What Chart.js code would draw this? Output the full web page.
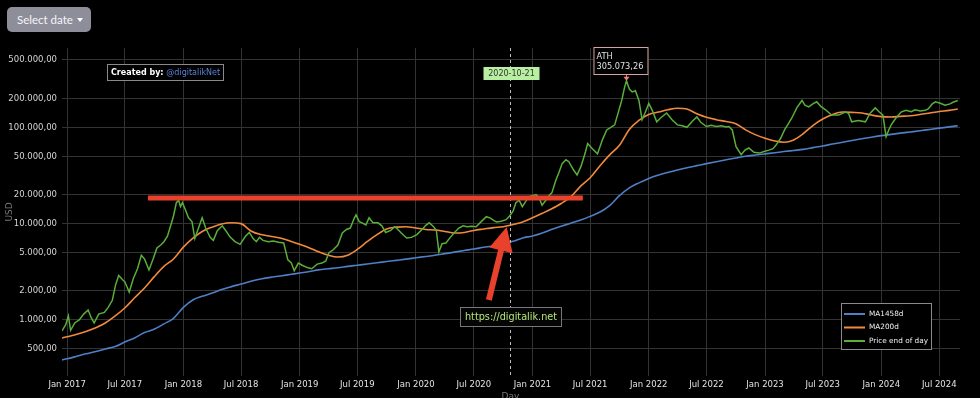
<!DOCTYPE html>
<html>
<head>
<meta charset="utf-8">
<script src="https://cdn.jsdelivr.net/npm/chart.js@4.4.1/dist/chart.umd.min.js"></script>
<style>
  html, body { margin: 0; padding: 0; background: #000; }
  #wrap { position: relative; width: 980px; height: 398px; }
  #btn {
    position: absolute; left: 7px; top: 7px; width: 84px; height: 25px;
    box-sizing: border-box; padding-left: 10px;
    background: #8e8e9a; border-radius: 5px; color: #f4f4f8;
    font: 11.5px 'Lato', sans-serif; line-height: 25px;
  }
  #btn .caret {
    position: absolute; left: 70px; top: 11px;
    border-left: 3.5px solid transparent; border-right: 3.5px solid transparent;
    border-top: 4px solid #fff;
  }
</style>
</head>
<body>
<div id="wrap">
  <canvas id="chart" width="980" height="398"></canvas>
  <div id="btn">Select date<span class="caret"></span></div>
</div>
<script>
// moving averages, one point per month
const maDates = [
  '2016-12-16',
  '2017-01-01','2017-02-01','2017-03-01','2017-04-01','2017-05-01','2017-06-01','2017-07-01','2017-08-01','2017-09-01','2017-10-01','2017-11-01','2017-12-01',
  '2018-01-01','2018-02-01','2018-03-01','2018-04-01','2018-05-01','2018-06-01','2018-07-01','2018-08-01','2018-09-01','2018-10-01','2018-11-01','2018-12-01',
  '2019-01-01','2019-02-01','2019-03-01','2019-04-01','2019-05-01','2019-06-01','2019-07-01','2019-08-01','2019-09-01','2019-10-01','2019-11-01','2019-12-01',
  '2020-01-01','2020-02-01','2020-03-01','2020-04-01','2020-05-01','2020-06-01','2020-07-01','2020-08-01','2020-09-01','2020-10-01','2020-11-01','2020-12-01',
  '2021-01-01','2021-02-01','2021-03-01','2021-04-01','2021-05-01','2021-06-01','2021-07-01','2021-08-01','2021-09-01','2021-10-01','2021-11-01','2021-12-01',
  '2022-01-01','2022-02-01','2022-03-01','2022-04-01','2022-05-01','2022-06-01','2022-07-01','2022-08-01','2022-09-01','2022-10-01','2022-11-01','2022-12-01',
  '2023-01-01','2023-02-01','2023-03-01','2023-04-01','2023-05-01','2023-06-01','2023-07-01','2023-08-01','2023-09-01','2023-10-01','2023-11-01','2023-12-01',
  '2024-01-01','2024-02-01','2024-03-01','2024-04-01','2024-05-01','2024-06-01','2024-07-01','2024-08-01','2024-08-28'
];
const ma1458 = [
  385,
  395, 420, 445, 470, 500, 530, 590, 650, 740, 800, 910, 1040,
  1350, 1620, 1760, 1900, 2070, 2220, 2360, 2520, 2660, 2770, 2860, 2960,
  3070, 3180, 3310, 3400, 3480, 3600, 3700, 3810, 3920, 4040, 4160, 4280,
  4420, 4560, 4700, 4880, 5060, 5260, 5450, 5680, 5900, 6200, 6550, 7100,
  7450, 8000, 8700, 9400, 10100, 10900, 11900, 13200, 15500, 19500, 23500, 26500,
  29500, 32000, 34000, 36000, 38000, 40000, 42000, 44000, 46000, 48000, 50000, 51500,
  53000, 54500, 56000, 57500, 59000, 61500, 64000, 67000, 70000, 73000, 76000, 79000,
  82000, 84500, 87000, 89500, 92000, 95000, 98000, 101000, 104000
];
const ma200 = [
  650,
  670, 710, 760, 830, 930, 1100, 1330, 1700, 2150, 2800, 3600, 4300,
  5700, 7100, 8300, 9200, 9900, 10200, 10000, 8400, 7700, 7400, 7100, 6600,
  6100, 5600, 5100, 4700, 4500, 4700, 5400, 6500, 7700, 8800, 9200, 9300,
  9000, 8700, 8600, 8300, 8000, 8100, 8500, 8800, 9100, 9300, 9800, 10400,
  11500, 12800, 14200, 16200, 19000, 24500, 30000, 40000, 52000, 65000, 95000, 118000,
  136000, 144000, 152000, 158000, 155000, 138000, 127000, 120000, 115000, 109000, 94000, 84000,
  77000, 72000, 70000, 74000, 86000, 105000, 122000, 136000, 144000, 143000, 141000, 134000,
  129000, 128000, 130000, 132000, 136000, 141000, 146000, 150000, 155000
];

// price end of day (sampled)
const priceDates = [
  '2016-12-16','2016-12-28','2017-01-05','2017-01-12','2017-01-25','2017-02-08','2017-02-22','2017-03-08','2017-03-18','2017-03-27',
  '2017-04-10','2017-04-28','2017-05-10','2017-05-23','2017-06-02','2017-06-12','2017-06-25','2017-07-01','2017-07-15','2017-07-28',
  '2017-08-10','2017-08-22','2017-09-01','2017-09-15','2017-09-28','2017-10-10','2017-10-22','2017-11-01','2017-11-12','2017-11-22',
  '2017-12-01','2017-12-10','2017-12-17','2017-12-23','2017-12-29','2018-01-07','2018-01-17','2018-01-28','2018-02-06','2018-02-20',
  '2018-03-01','2018-03-12','2018-03-26','2018-04-05','2018-04-18','2018-05-03','2018-05-15','2018-05-27','2018-06-12','2018-06-28',
  '2018-07-15','2018-07-27','2018-08-08','2018-08-18','2018-08-28','2018-09-08','2018-09-25','2018-10-10','2018-10-27','2018-11-12',
  '2018-11-25','2018-12-06','2018-12-15','2018-12-28','2019-01-09','2019-01-25','2019-02-08','2019-02-25','2019-03-12','2019-03-24',
  '2019-04-03','2019-04-15','2019-05-01','2019-05-15','2019-05-28','2019-06-09','2019-06-22','2019-06-27','2019-07-07','2019-07-16',
  '2019-07-28','2019-08-07','2019-08-19','2019-09-04','2019-09-16','2019-09-28','2019-10-14','2019-10-26','2019-11-01','2019-11-16',
  '2019-12-03','2019-12-18','2020-01-04','2020-01-20','2020-02-01','2020-02-12','2020-02-24','2020-03-05','2020-03-13','2020-03-23',
  '2020-04-04','2020-04-18','2020-05-01','2020-05-15','2020-05-28','2020-06-10','2020-06-23','2020-07-08','2020-07-24','2020-08-09',
  '2020-08-22','2020-09-01','2020-09-10','2020-09-25','2020-10-10','2020-10-21','2020-11-01','2020-11-10','2020-11-20','2020-11-30',
  '2020-12-11','2020-12-20','2020-12-31','2021-01-12','2021-01-22','2021-01-31','2021-02-12','2021-02-22','2021-03-03','2021-03-15',
  '2021-03-25','2021-04-04','2021-04-16','2021-04-25','2021-05-10','2021-05-21','2021-06-03','2021-06-16','2021-06-23','2021-07-08',
  '2021-07-24','2021-08-09','2021-08-22','2021-09-04','2021-09-16','2021-09-29','2021-10-08','2021-10-17','2021-10-23','2021-11-01',
  '2021-11-10','2021-11-20','2021-12-01','2021-12-11','2021-12-20','2022-01-01','2022-01-12','2022-01-26','2022-02-07','2022-02-26',
  '2022-03-15','2022-04-01','2022-04-16','2022-05-01','2022-05-17','2022-06-01','2022-06-14','2022-07-01','2022-07-16','2022-08-01',
  '2022-08-17','2022-09-01','2022-09-10','2022-09-20','2022-10-02','2022-10-18','2022-10-30','2022-11-11','2022-11-27','2022-12-14',
  '2022-12-29','2023-01-13','2023-01-26','2023-02-04','2023-02-19','2023-03-04','2023-03-16','2023-03-26','2023-04-11','2023-04-27',
  '2023-05-06','2023-05-18','2023-05-31','2023-06-12','2023-06-25','2023-07-10','2023-07-29','2023-08-20','2023-09-10','2023-09-20',
  '2023-09-30','2023-10-21','2023-11-12','2023-11-27','2023-12-13','2023-12-25','2024-01-06','2024-01-16','2024-01-25','2024-02-01',
  '2024-02-16','2024-03-03','2024-03-18','2024-04-04','2024-04-16','2024-05-02','2024-05-18','2024-05-27','2024-06-09','2024-06-19',
  '2024-07-04','2024-07-19','2024-08-04','2024-08-13','2024-08-28'
];
const price = [
  770, 900, 1100, 780, 930, 1000, 1150, 1270, 1050, 930,
  1150, 1200, 1350, 1600, 2300, 2900, 2600, 2500, 1950, 2700,
  3400, 4700, 4300, 3300, 4300, 5600, 6000, 6500, 7400, 9500,
  12000, 16500, 17500, 15000, 16500, 14000, 11500, 10500, 7000, 9500,
  11500, 9000, 7200, 6700, 8500, 9500, 8400, 7300, 6500, 6100,
  7400, 8100, 7000, 6500, 7200, 6700, 6500, 6600, 6400, 6300,
  4200, 3900, 3250, 3900, 3700, 3500, 3400, 3800, 3900, 4100,
  5000, 5300, 6000, 8000, 8700, 9000, 11500, 12300, 10500, 10200,
  9700, 11500, 10200, 10200, 9500, 8100, 8500, 9300, 9000, 8000,
  7100, 7200, 7700, 8700, 9600, 10200, 9400, 8600, 5100, 6200,
  6300, 7200, 8100, 9000, 9500, 9300, 9400, 9300, 10500, 11800,
  11400, 10800, 10400, 10600, 11000, 12000, 13500, 16500, 17500, 15000,
  17000, 19000, 19500, 20000, 18500, 15500, 17500, 19500, 21000, 28000,
  34000, 42000, 46000, 44000, 36000, 32000, 40000, 55000, 68000, 60000,
  53000, 75000, 94000, 100000, 106000, 150000, 190000, 260000, 305073.26, 250000,
  233000, 240000, 190000, 120000, 140000, 177000, 150000, 114000, 125000, 141000,
  120000, 106000, 104000, 100000, 115000, 128000, 112000, 102000, 105000, 102000,
  104000, 101000, 102000, 94000, 63000, 52000, 58000, 61000, 55000, 54000,
  56000, 58000, 60000, 65000, 77000, 95000, 110000, 125000, 160000, 190000,
  170000, 163000, 175000, 184000, 165000, 152000, 134000, 134000, 144000, 140000,
  114000, 118000, 114000, 140000, 159000, 145000, 134000, 80000, 95000, 106000,
  125000, 144000, 150000, 145000, 152000, 148000, 150000, 155000, 175000, 184000,
  178000, 170000, 175000, 182000, 190000
];

const yTicks = [500, 1000, 2000, 5000, 10000, 20000, 50000, 100000, 200000, 500000];
const xTicks = [
  '2017-01-01','2017-07-01','2018-01-01','2018-07-01','2019-01-01','2019-07-01','2020-01-01','2020-07-01',
  '2021-01-01','2021-07-01','2022-01-01','2022-07-01','2023-01-01','2023-07-01','2024-01-01','2024-07-01'
];
const months = ['Jan','Feb','Mar','Apr','May','Jun','Jul','Aug','Sep','Oct','Nov','Dec'];

const markDate = '2020-10-21';
const resistance = { from: '2017-09-12', to: '2021-06-08', value: 18500 };
const arrow = { from: ['2020-08-17', 1610], to: ['2020-10-12', 9220] };

function fmtNum(v) {
  const parts = v.toFixed(2).split('.');
  return parts[0].replace(/\B(?=(\d{3})+(?!\d))/g, '.') + ',' + parts[1];
}
const toPts = (dates, vals) => dates.map((d, i) => ({ x: Date.parse(d), y: vals[i] }));

function box(ctx, x, y, w, h, fill, stroke) {
  ctx.fillStyle = fill;
  ctx.fillRect(x, y, w, h);
  if (stroke) {
    ctx.strokeStyle = stroke;
    ctx.lineWidth = 1;
    ctx.strokeRect(x + 0.5, y + 0.5, w - 1, h - 1);
  }
}

const overlays = {
  id: 'overlays',
  afterDraw(chart) {
    const { ctx, chartArea: a, scales: { x, y } } = chart;
    const F = 'DejaVu Sans';
    ctx.save();

    // vertical marker
    const mx = Math.round(x.getPixelForValue(Date.parse(markDate))) + 0.5;
    ctx.strokeStyle = '#bdbdbd';
    ctx.lineWidth = 1;
    ctx.setLineDash([3, 3]);
    ctx.beginPath();
    ctx.moveTo(mx, a.top);
    ctx.lineTo(mx, a.bottom);
    ctx.stroke();
    ctx.setLineDash([]);

    // red resistance line
    const ry = y.getPixelForValue(resistance.value);
    ctx.strokeStyle = '#e8412c';
    ctx.lineWidth = 5;
    ctx.beginPath();
    ctx.moveTo(x.getPixelForValue(Date.parse(resistance.from)), ry);
    ctx.lineTo(x.getPixelForValue(Date.parse(resistance.to)), ry);
    ctx.stroke();

    // red arrow
    const x0 = x.getPixelForValue(Date.parse(arrow.from[0])), y0 = y.getPixelForValue(arrow.from[1]);
    const x1 = x.getPixelForValue(Date.parse(arrow.to[0])), y1 = y.getPixelForValue(arrow.to[1]);
    const len = Math.hypot(x1 - x0, y1 - y0);
    const ux = (x1 - x0) / len, uy = (y1 - y0) / len;
    const head = 24, hw = 12;
    const bx = x1 - ux * head, by = y1 - uy * head;
    ctx.strokeStyle = '#e8412c';
    ctx.lineWidth = 6;
    ctx.beginPath();
    ctx.moveTo(x0, y0);
    ctx.lineTo(bx + ux * 2, by + uy * 2);
    ctx.stroke();
    ctx.fillStyle = '#e8412c';
    ctx.beginPath();
    ctx.moveTo(x1, y1);
    ctx.lineTo(bx - uy * hw, by + ux * hw);
    ctx.lineTo(bx + uy * hw, by - ux * hw);
    ctx.closePath();
    ctx.fill();

    // date label on marker
    box(ctx, mx - 27, 67, 56, 13, '#b8f0a2');
    ctx.fillStyle = '#333';
    ctx.font = '8px ' + F;
    ctx.textAlign = 'center';
    ctx.textBaseline = 'middle';
    ctx.fillText(markDate, mx + 1, 73.5);

    // ATH label
    let iMax = 0;
    price.forEach((v, i) => { if (v > price[iMax]) iMax = i; });
    const px = x.getPixelForValue(Date.parse(priceDates[iMax]));
    const py = y.getPixelForValue(price[iMax]);
    box(ctx, px - 33, 47, 55, 28, '#000', '#d4a3a0');
    ctx.fillStyle = '#e0e0e0';
    ctx.textAlign = 'left';
    ctx.font = '8.2px ' + F;
    ctx.fillText('ATH', px - 30, 56.5);
    ctx.fillText(fmtNum(price[iMax]), px - 30, 67);
    ctx.strokeStyle = '#f08080';
    ctx.lineWidth = 1;
    ctx.beginPath();
    ctx.moveTo(px, 75);
    ctx.lineTo(px, py - 2);
    ctx.stroke();
    ctx.fillStyle = '#f08080';
    ctx.beginPath();
    ctx.moveTo(px, py);
    ctx.lineTo(px - 3, py - 4);
    ctx.lineTo(px + 3, py - 4);
    ctx.closePath();
    ctx.fill();

    // created by
    box(ctx, 107, 64, 117, 17, '#000', '#8a8a8a');
    ctx.textBaseline = 'middle';
    ctx.font = 'bold 8px ' + F;
    ctx.fillStyle = '#fff';
    ctx.fillText('Created by:', 111, 73);
    const w1 = ctx.measureText('Created by: ').width;
    ctx.font = '8px ' + F;
    ctx.fillStyle = '#5d80d8';
    ctx.fillText('@digitalikNet', 111 + w1, 73);

    // link box
    box(ctx, 460, 307, 102, 20, '#050505', '#777');
    ctx.font = '9.7px ' + F;
    ctx.fillStyle = '#b4e878';
    ctx.textAlign = 'center';
    ctx.fillText('https://digitalik.net', 511, 317.5);

    // legend
    box(ctx, 841, 303, 91, 47, '#000', '#8a8a8a');
    ctx.textAlign = 'left';
    ctx.font = '7.3px ' + F;
    chart.data.datasets.forEach((ds, i) => {
      const ly = 314 + i * 13.5;
      ctx.strokeStyle = ds.borderColor;
      ctx.lineWidth = 2;
      ctx.beginPath();
      ctx.moveTo(844, ly);
      ctx.lineTo(865, ly);
      ctx.stroke();
      ctx.fillStyle = '#f0f0f0';
      ctx.fillText(ds.label, 869, ly);
    });

    // axis titles
    ctx.fillStyle = '#777';
    ctx.font = '9px ' + F;
    ctx.textAlign = 'center';
    ctx.textBaseline = 'top';
    ctx.fillText('Day', mx, 392);
    ctx.translate(10, 212);
    ctx.rotate(-Math.PI / 2);
    ctx.textBaseline = 'middle';
    ctx.fillText('USD', 0, 0);
    ctx.restore();
  }
};

new Chart(document.getElementById('chart'), {
  type: 'line',
  data: {
    datasets: [
      { label: 'MA1458d', data: toPts(maDates, ma1458), borderColor: '#4f7fc4', borderWidth: 1.6, pointRadius: 0, cubicInterpolationMode: 'monotone', order: 2 },
      { label: 'MA200d', data: toPts(maDates, ma200), borderColor: '#f28a3c', borderWidth: 1.6, pointRadius: 0, cubicInterpolationMode: 'monotone', order: 1 },
      { label: 'Price end of day', data: toPts(priceDates, price), borderColor: '#5aae3a', borderWidth: 1.5, pointRadius: 0, tension: 0, order: 0 }
    ]
  },
  options: {
    responsive: false,
    animation: false,
    devicePixelRatio: 1,
    layout: { padding: { top: 48, right: 20, bottom: 0, left: 0 } },
    plugins: { legend: { display: false }, tooltip: { enabled: false } },
    scales: {
      x: {
        type: 'linear',
        min: Date.parse('2016-12-16'),
        max: Date.parse('2024-09-04'),
        border: { display: false },
        grid: { color: '#333', drawTicks: false },
        afterBuildTicks: axis => { axis.ticks = xTicks.map(d => ({ value: Date.parse(d) })); },
        afterFit: axis => { axis.height = 22; },
        ticks: {
          autoSkip: false, maxRotation: 0, padding: 4,
          color: '#e2e2e2', font: { family: 'DejaVu Sans', size: 8.5 },
          callback: v => { const d = new Date(v); return months[d.getUTCMonth()] + ' ' + d.getUTCFullYear(); }
        }
      },
      y: {
        type: 'logarithmic',
        min: 262,
        max: 666000,
        border: { display: false },
        grid: { color: '#333', drawTicks: false },
        afterBuildTicks: axis => { axis.ticks = yTicks.map(v => ({ value: v })); },
        afterFit: axis => { axis.width = 62; },
        ticks: {
          autoSkip: false, padding: 5,
          color: '#d4d4d4', font: { family: 'DejaVu Sans', size: 8.5 },
          callback: v => fmtNum(v)
        }
      }
    }
  },
  plugins: [overlays]
});
</script>
</body>
</html>
